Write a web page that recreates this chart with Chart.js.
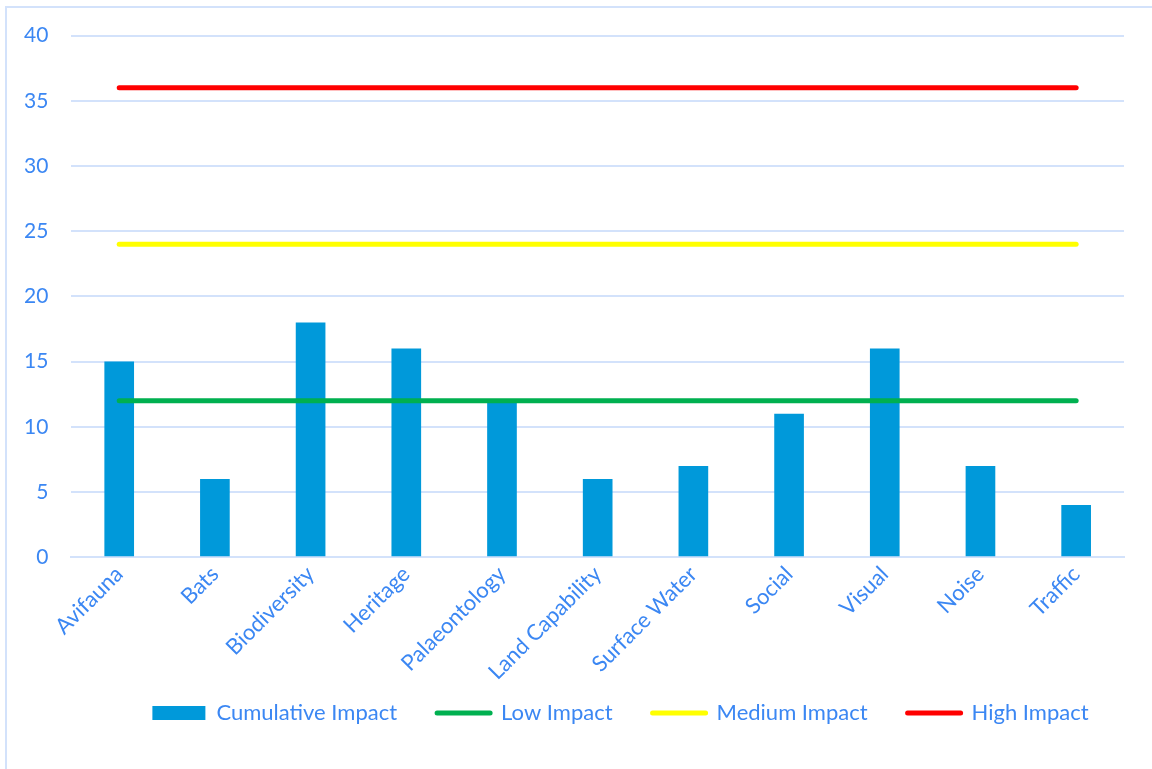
<!DOCTYPE html>
<html lang="en">
<head>
    <meta charset="UTF-8">
    <script src="https://cdn.jsdelivr.net/npm/chart.js"></script>
    <title>Cumulative Impact</title>
    <style>
        body { margin: 0; background: #fff; overflow: hidden; }
        #frame {
            position: absolute; left: 5px; top: 6px;
            width: 1170px; height: 790px;
            border: 2px solid #d3e2fb;
        }
        #myChart { position: absolute; left: 0; top: 0; }
    </style>
</head>
<body>
<div id="frame"></div>
<canvas id="myChart" width="1152" height="769"></canvas>

<script>
    const categories = ['Avifauna', 'Bats', 'Biodiversity', 'Heritage', 'Palaeontology',
        'Land Capability', 'Surface Water', 'Social', 'Visual', 'Noise', 'Traffic'];
    const cumulative = [15, 6, 18, 16, 12, 6, 7, 11, 16, 7, 4];
    const lowImpact = [12, 12, 12, 12, 12, 12, 12, 12, 12, 12, 12];
    const mediumImpact = [24, 24, 24, 24, 24, 24, 24, 24, 24, 24, 24];
    const highImpact = [36, 36, 36, 36, 36, 36, 36, 36, 36, 36, 36];

    const textColor = '#3b87f3';
    const gridColor = '#d3e2fb';
    const fontName = 'Lato, "Open Sans", sans-serif';

    const data = {
        labels: categories,
        datasets: [{
            type: 'bar',
            label: 'Cumulative Impact',
            data: cumulative,
            backgroundColor: '#0099da',
            barPercentage: 0.31,
            categoryPercentage: 1,
            order: 5,
        }, {
            type: 'line',
            label: 'Low Impact',
            data: lowImpact,
            borderColor: '#00b050',
            borderWidth: 5,
            borderCapStyle: 'round',
            pointRadius: 0,
            order: 1,
        }, {
            type: 'line',
            label: 'Medium Impact',
            data: mediumImpact,
            borderColor: '#ffff00',
            borderWidth: 5,
            borderCapStyle: 'round',
            pointRadius: 0,
            order: 1,
        }, {
            type: 'line',
            label: 'High Impact',
            data: highImpact,
            borderColor: '#ff0000',
            borderWidth: 5,
            borderCapStyle: 'round',
            pointRadius: 0,
            order: 1,
        }]
    };

    // legend sits closer to the labels and a bit to the right in the original
    const legendShift = {
        id: 'legendShift',
        afterLayout(chart) {
            chart.legend.left += 58;
            chart.legend.right += 58;
            chart.legend.top -= 27;
            chart.legend.bottom -= 27;
        }
    };

    const config = {
        type: 'bar',
        data: data,
        plugins: [legendShift],
        options: {
            responsive: false,
            animation: false,
            layout: { padding: { left: 1, right: 28, top: 34, bottom: 8 } },
            plugins: {
                tooltip: { enabled: false },
                legend: {
                    position: 'bottom',
                    labels: {
                        color: textColor,
                        font: { family: fontName, size: 22 },
                        usePointStyle: true,
                        pointStyleWidth: 53,
                        boxHeight: 14,
                        padding: 40,
                        generateLabels: function (chart) {
                            return chart.data.datasets.map((ds, i) => ({
                                text: ds.label,
                                datasetIndex: i,
                                fillStyle: ds.type === 'bar' ? ds.backgroundColor : ds.borderColor,
                                strokeStyle: ds.type === 'bar' ? ds.backgroundColor : ds.borderColor,
                                lineWidth: ds.type === 'bar' ? 0 : 5,
                                lineCap: 'round',
                                pointStyle: ds.type === 'bar' ? 'rect' : 'line',
                                fontColor: textColor,
                                hidden: false,
                            }));
                        }
                    }
                }
            },
            scales: {
                x: {
                    grid: { display: false, drawTicks: false },
                    border: { color: gridColor, width: 2 },
                    ticks: {
                        color: textColor,
                        font: { family: fontName, size: 22 },
                        minRotation: 45,
                        maxRotation: 45,
                        autoSkip: false,
                        padding: 4,
                    }
                },
                y: {
                    min: 0,
                    max: 40,
                    grid: { color: gridColor, lineWidth: 2, drawTicks: false },
                    border: { display: false },
                    ticks: {
                        stepSize: 5,
                        color: textColor,
                        font: { family: fontName, size: 21 },
                        padding: 23,
                    }
                }
            }
        }
    };

    const myChart = new Chart(document.getElementById('myChart'), config);
</script>
</body>
</html>
